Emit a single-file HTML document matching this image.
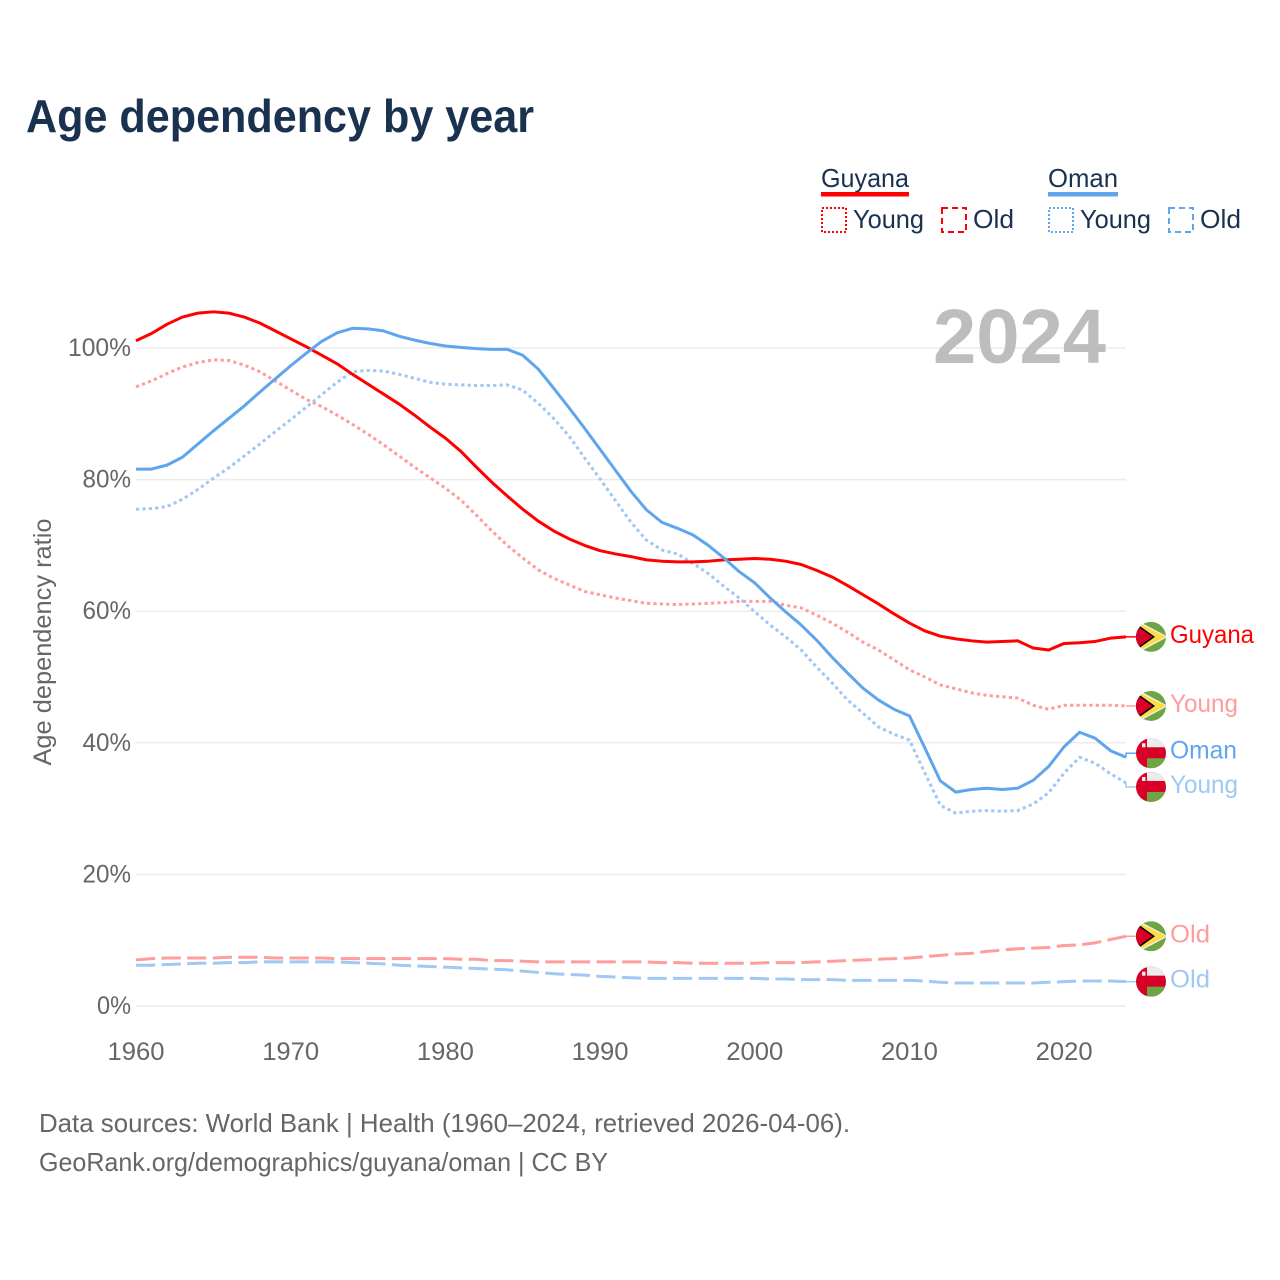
<!DOCTYPE html>
<html lang="en">
<head>
<meta charset="utf-8">
<title>Age dependency by year</title>
<style>
html,body{margin:0;padding:0;background:#fff;width:1280px;height:1280px;overflow:hidden}
svg{display:block;font-family:"Liberation Sans",sans-serif}
</style>
</head>
<body>
<svg id="chart" width="1280" height="1280" viewBox="0 0 1280 1280" xmlns="http://www.w3.org/2000/svg">
  <defs>
    <clipPath id="flag-clip"><circle cx="0" cy="0" r="15"/></clipPath>
    <g id="flag-guyana" clip-path="url(#flag-clip)">
      <rect x="-15" y="-15" width="30" height="30" fill="#6da544"/>
      <polygon points="-15,-17 17,0 -15,17" fill="#f0f0f0"/>
      <polygon points="-13,-14 15,0 -13,14" fill="#ffda44"/>
      <polygon points="-15,-13.5 4,0 -15,13.5" fill="#000"/>
      <polygon points="-15,-11.5 1.5,0 -15,11.5" fill="#d80027"/>
    </g>
    <g id="flag-oman" clip-path="url(#flag-clip)">
      <rect x="-15" y="-15" width="30" height="30" fill="#d80027"/>
      <rect x="-4" y="-15" width="19" height="9" fill="#ececec"/>
      <rect x="-4" y="5" width="19" height="10" fill="#6da544"/>
      <rect x="-9" y="-10" width="3.5" height="4" fill="#f0f0f0"/>
    </g>
  </defs>

  <text x="26" y="132" font-size="46" font-weight="700" fill="#1a3150" textLength="508" lengthAdjust="spacingAndGlyphs">Age dependency by year</text>

  <g font-size="26" fill="#1a3150">
    <text x="821" y="187" textLength="88" lengthAdjust="spacingAndGlyphs">Guyana</text>
    <rect x="821" y="192" width="88" height="4.5" fill="#ff0000"/>
    <rect x="822" y="208" width="24" height="24" fill="none" stroke="#ff0000" stroke-width="2" stroke-dasharray="2 2"/>
    <text x="853" y="228" textLength="71" lengthAdjust="spacingAndGlyphs">Young</text>
    <rect x="942" y="208" width="24" height="24" fill="none" stroke="#ff0000" stroke-width="2" stroke-dasharray="6 4"/>
    <text x="973" y="228" textLength="41" lengthAdjust="spacingAndGlyphs">Old</text>
    <text x="1048" y="187" textLength="70" lengthAdjust="spacingAndGlyphs">Oman</text>
    <rect x="1048" y="192" width="70" height="4.5" fill="#5fa5ee"/>
    <rect x="1049" y="208" width="24" height="24" fill="none" stroke="#5fa5ee" stroke-width="2" stroke-dasharray="2 2"/>
    <text x="1080" y="228" textLength="71" lengthAdjust="spacingAndGlyphs">Young</text>
    <rect x="1169" y="208" width="24" height="24" fill="none" stroke="#5fa5ee" stroke-width="2" stroke-dasharray="6 4"/>
    <text x="1200" y="228" textLength="41" lengthAdjust="spacingAndGlyphs">Old</text>
  </g>

  <g id="grid"></g>
  <g id="y-ticks"></g>
  <g id="x-ticks"></g>

  <text x="933" y="363" font-size="77" font-weight="700" fill="#bdbdbd" textLength="173" lengthAdjust="spacingAndGlyphs">2024</text>

  <text transform="translate(51,642) rotate(-90)" text-anchor="middle" font-size="25" fill="#666666" textLength="247" lengthAdjust="spacingAndGlyphs">Age dependency ratio</text>

  <g id="series"></g>
  <g id="end-labels"></g>

  <text x="39" y="1132" font-size="26" fill="#666666" textLength="811" lengthAdjust="spacingAndGlyphs">Data sources: World Bank | Health (1960–2024, retrieved 2026-04-06).</text>
  <text x="39" y="1171" font-size="26" fill="#666666" textLength="569" lengthAdjust="spacingAndGlyphs">GeoRank.org/demographics/guyana/oman | CC BY</text>

<script>
const firstYear = 1960;
const yTickValues = [0, 20, 40, 60, 80, 100];
const xTickValues = [1960, 1970, 1980, 1990, 2000, 2010, 2020];

const guyanaTotal = [101.1,102.2,103.6,104.7,105.3,105.5,105.3,104.7,103.8,102.6,101.4,100.2,98.9,97.6,96.0,94.5,93.0,91.5,89.8,88.0,86.3,84.3,81.9,79.6,77.5,75.5,73.7,72.2,71.0,70.0,69.2,68.7,68.3,67.8,67.6,67.5,67.5,67.6,67.8,67.9,68.0,67.9,67.6,67.1,66.2,65.2,63.9,62.5,61.1,59.6,58.2,57.0,56.2,55.8,55.5,55.3,55.4,55.5,54.4,54.1,55.1,55.2,55.4,55.9,56.1];
const guyanaYoung = [94.1,95.0,96.1,97.1,97.8,98.2,98.1,97.4,96.4,95.0,93.6,92.2,91.1,89.8,88.4,86.9,85.3,83.6,81.9,80.3,78.7,76.9,74.6,72.2,70.0,68.1,66.3,65.0,64.0,63.0,62.5,62.0,61.6,61.2,61.1,61.0,61.1,61.2,61.3,61.5,61.5,61.5,60.9,60.5,59.4,58.2,56.8,55.3,54.1,52.6,51.1,50.0,48.8,48.2,47.6,47.2,47.0,46.8,45.7,45.1,45.7,45.7,45.7,45.7,45.6];
const guyanaOld = [7.0,7.2,7.3,7.3,7.3,7.3,7.4,7.4,7.4,7.3,7.3,7.3,7.3,7.2,7.2,7.2,7.2,7.2,7.2,7.2,7.2,7.1,7.1,6.9,6.9,6.8,6.7,6.7,6.7,6.7,6.7,6.7,6.7,6.7,6.6,6.6,6.5,6.5,6.5,6.5,6.5,6.6,6.6,6.6,6.7,6.8,6.9,7.0,7.1,7.2,7.3,7.5,7.7,7.9,8.0,8.3,8.5,8.7,8.8,8.9,9.2,9.3,9.6,10.1,10.6];
const omanTotal = [81.6,81.6,82.2,83.4,85.4,87.4,89.3,91.2,93.3,95.3,97.3,99.2,101.0,102.3,103.0,102.9,102.6,101.8,101.2,100.7,100.3,100.1,99.9,99.8,99.8,98.9,96.8,93.9,90.9,87.8,84.6,81.4,78.2,75.4,73.5,72.6,71.6,70.0,68.1,66.0,64.3,62.0,59.9,57.9,55.6,53.0,50.6,48.3,46.5,45.1,44.1,39.2,34.2,32.5,32.9,33.1,32.9,33.1,34.3,36.4,39.4,41.6,40.7,38.8,37.8];
const omanYoung = [75.5,75.6,75.9,77.0,78.5,80.2,81.8,83.6,85.4,87.3,89.1,91.0,92.9,94.8,96.4,96.6,96.5,96.0,95.4,94.8,94.5,94.4,94.3,94.3,94.4,93.6,91.6,89.3,86.6,83.3,80.1,76.8,73.5,70.8,69.3,68.7,67.3,65.7,63.8,62.0,59.9,57.9,56.1,54.1,51.5,49.1,46.5,44.5,42.4,41.3,40.4,35.4,30.5,29.3,29.6,29.7,29.6,29.7,30.7,32.4,35.4,37.8,36.9,35.3,33.9];
const omanOld = [6.2,6.2,6.3,6.4,6.5,6.5,6.6,6.6,6.7,6.7,6.7,6.7,6.7,6.7,6.6,6.5,6.4,6.2,6.1,6.0,5.9,5.8,5.7,5.6,5.5,5.3,5.1,4.9,4.8,4.7,4.5,4.4,4.3,4.2,4.2,4.2,4.2,4.2,4.2,4.2,4.2,4.1,4.1,4.0,4.0,4.0,3.9,3.9,3.9,3.9,3.9,3.8,3.6,3.5,3.5,3.5,3.5,3.5,3.5,3.6,3.7,3.8,3.8,3.8,3.7];

const NS = 'http://www.w3.org/2000/svg';
const xScale = year => 136 + (year - 1960) * (1126 - 136) / 64;
const yScale = value => 1006 - value * 6.58;

function mk(tag, attrs, parent, text) {
  const el = document.createElementNS(NS, tag);
  for (const k in attrs) el.setAttribute(k, attrs[k]);
  if (text !== undefined) el.textContent = text;
  parent.appendChild(el);
  return el;
}

const gridG = document.getElementById('grid');
const yG = document.getElementById('y-ticks');
const xG = document.getElementById('x-ticks');
const seriesG = document.getElementById('series');
const labelG = document.getElementById('end-labels');

yTickValues.forEach(v => {
  const line = mk('line', {x1: 136, x2: 1126, y1: yScale(v), y2: yScale(v), stroke: '#ececec', 'stroke-width': 1.5}, gridG);
  
  
  const s = v + '%';
  const t = mk('text', {x: 131, y: yScale(v) + 8, 'text-anchor': 'end', 'font-size': 25, fill: '#666666', textLength: (s.length - 1) * 14.5 + 19.5, lengthAdjust: 'spacingAndGlyphs'}, yG, s);
  
  
});

xTickValues.forEach(y => {
  const t = mk('text', {x: xScale(y), y: 1060, 'text-anchor': 'middle', 'font-size': 25, fill: '#666666', textLength: 57, lengthAdjust: 'spacingAndGlyphs'}, xG, String(y));
  
  
});

function drawSeries(values, name, colour, dash, flag, label, labelColour, labelWidth, offset, labelShift) {
  const pts = values.map((v, i) => xScale(firstYear + i).toFixed(2) + ',' + yScale(v).toFixed(2)).join(' ');
  const attrs = {points: pts, fill: 'none', stroke: colour, 'stroke-width': 3, 'stroke-linejoin': 'round'};
  if (dash) attrs['stroke-dasharray'] = dash;
  const line = mk('polyline', attrs, seriesG);
  
  

  const lastX = xScale(firstYear + values.length - 1);
  const lastY = yScale(values[values.length - 1]);
  const flagY = lastY + offset;
  const conn = mk('polyline', {points: lastX + ',' + lastY + ' ' + lastX + ',' + flagY + ' ' + (lastX + 10) + ',' + flagY, fill: 'none', stroke: colour, 'stroke-width': 1.5}, seriesG);
  
  

  const f = mk('use', {href: '#' + flag, x: 1151, y: flagY}, labelG);
  
  

  const t = mk('text', {x: 1170, y: flagY + labelShift, 'font-size': 25, fill: labelColour, textLength: labelWidth, lengthAdjust: 'spacingAndGlyphs'}, labelG, label);
  
  
}

drawSeries(guyanaOld, 'guyana-old-line', '#ff9c9c', '19.2 6.4', 'flag-guyana', 'Old', '#ff9c9c', 40, 0, 6);
drawSeries(omanOld, 'oman-old-line', '#a0c8f4', '19.2 6.4', 'flag-oman', 'Old', '#a0c8f4', 40, 0, 6);
drawSeries(guyanaYoung, 'guyana-young-line', '#ff9c9c', '3.2 3.2', 'flag-guyana', 'Young', '#ff9c9c', 68, 0, 6);
drawSeries(omanYoung, 'oman-young-line', '#a0c8f4', '3.2 3.2', 'flag-oman', 'Young', '#a0c8f4', 68, 4, 6);
drawSeries(guyanaTotal, 'guyana-total-line', '#ff0000', '', 'flag-guyana', 'Guyana', '#ff0000', 84, 0, 6);
drawSeries(omanTotal, 'oman-total-line', '#5fa5ee', '', 'flag-oman', 'Oman', '#5fa5ee', 67, -4, 5);
</script>
</svg>
</body>
</html>
